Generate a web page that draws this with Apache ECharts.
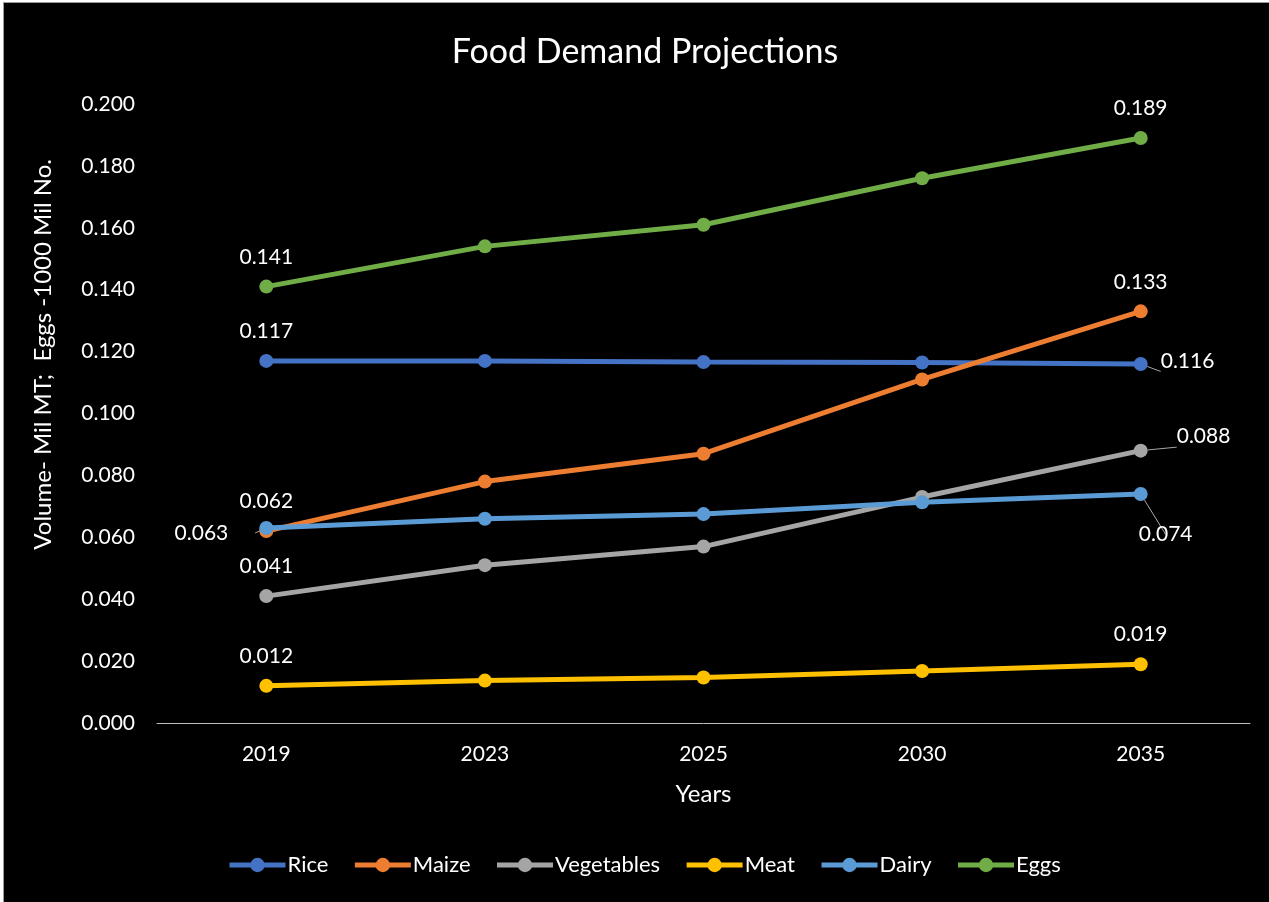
<!DOCTYPE html>
<html>
<head>
<meta charset="utf-8">
<script src="https://cdn.jsdelivr.net/npm/echarts@6/dist/echarts.min.js"></script>
<style>
  html, body { margin: 0; padding: 0; background: #ffffff; }
  #chart {
    position: absolute; left: 3px; top: 2px;
    width: 1266px; height: 900px;
    box-sizing: border-box;
    border-left: 1px solid #9a9a9a; border-top: 1px solid #9a9a9a;
    background: #000000;
  }
</style>
</head>
<body>
<div id="chart"></div>
<script>
// Projected demand, by year
const years = ['2019', '2023', '2025', '2030', '2035'];
const rice       = [0.117, 0.117, 0.1166, 0.1165, 0.116];
const maize      = [0.062, 0.078, 0.087, 0.111, 0.133];
const vegetables = [0.041, 0.051, 0.057, 0.073, 0.088];
const meat       = [0.012, 0.0137, 0.0147, 0.0168, 0.019];
const dairy      = [0.063, 0.066, 0.0675, 0.0713, 0.074];
const eggs       = [0.141, 0.154, 0.161, 0.176, 0.189];

const seriesNames = ['Rice', 'Maize', 'Vegetables', 'Meat', 'Dairy', 'Eggs'];
const seriesValues = [rice, maize, vegetables, meat, dairy, eggs];
const colors = ['#4472C4', '#ED7D31', '#A5A5A5', '#FFC000', '#5B9BD5', '#70AD47'];

const FONT = 'Lato, "Open Sans", sans-serif';

// Where the first/last value labels sit; unlisted ones go above the point.
const labelPlacement = {
  'Rice':       { 4: { position: 'right', offset: [8, -3] } },
  'Vegetables': { 4: { position: 'right', offset: [24, -14] } },
  'Dairy':      { 0: { position: 'left', offset: [-26, 5] },
                  4: { position: 'bottom', offset: [25, 18] } }
};

function buildData(name, values) {
  const last = values.length - 1;
  return values.map((v, i) => {
    if (i !== 0 && i !== last) return { value: v };
    const p = (labelPlacement[name] || {})[i];
    const label = { show: true, position: 'top', distance: 12 };
    const item = { value: v, label: label };
    if (p) {
      label.position = p.position;
      label.offset = p.offset;
      label.distance = 5;
      item.labelLine = { show: true, lineStyle: { color: '#a6a6a6', width: 1 } };
    }
    return item;
  });
}

const series = seriesNames.map((name, k) => ({
  name: name,
  type: 'line',
  data: buildData(name, seriesValues[k]),
  symbol: 'circle',
  symbolSize: 14,
  lineStyle: { width: 5, color: colors[k] },
  itemStyle: { color: colors[k] },
  label: {
    color: '#ffffff',
    fontFamily: FONT,
    fontSize: 21,
    formatter: p => p.value.toFixed(3)
  },
  labelLine: { lineStyle: { color: '#a6a6a6', width: 1 } },
  emphasis: { disabled: true },
  animation: false
}));

const chart = echarts.init(document.getElementById('chart'));
chart.setOption({
  backgroundColor: '#000000',
  title: {
    text: 'Food Demand Projections',
    left: 636, top: 27, textAlign: 'center',
    textStyle: { color: '#ffffff', fontFamily: FONT, fontSize: 34, fontWeight: 'normal' }
  },
  graphic: [{
    type: 'text',
    left: 27, top: 156,
    rotation: Math.PI / 2,
    style: {
      text: 'Volume- Mil MT;  Eggs -1000 Mil No.',
      fill: '#ffffff', font: '24px ' + FONT
    }
  }],
  legend: {
    data: seriesNames,
    top: 846,
    left: 218,
    itemWidth: 56, itemHeight: 18, itemGap: 24,
    lineStyle: { width: 5 },
    textStyle: { color: '#ffffff', fontFamily: FONT, fontSize: 22, padding: [0, 0, 0, -3] }
  },
  grid: { left: 153, right: 19, top: 101, bottom: 179 },
  xAxis: {
    type: 'category',
    data: years,
    boundaryGap: true,
    name: 'Years',
    nameLocation: 'middle',
    nameGap: 59,
    nameTextStyle: { color: '#ffffff', fontFamily: FONT, fontSize: 24 },
    axisLine: { lineStyle: { color: '#bfbfbf', width: 1 } },
    axisTick: { show: false },
    axisLabel: { color: '#ffffff', fontFamily: FONT, fontSize: 21, margin: 21 }
  },
  yAxis: {
    type: 'value',
    min: 0, max: 0.2, interval: 0.02,
    axisLine: { show: false },
    axisTick: { show: false },
    splitLine: { show: false },
    axisLabel: {
      color: '#ffffff', fontFamily: FONT, fontSize: 21, margin: 22,
      formatter: v => v.toFixed(3)
    }
  },
  series: series
});
</script>
</body>
</html>
